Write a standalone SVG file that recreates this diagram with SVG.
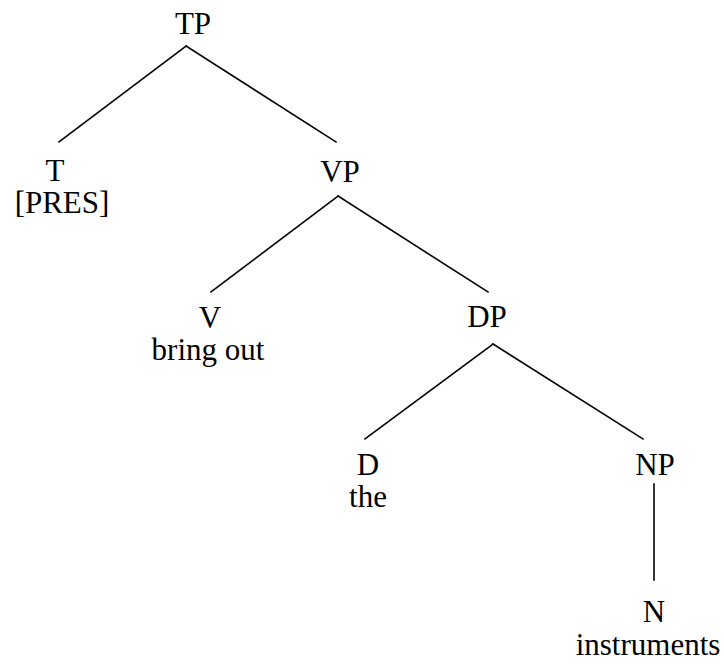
<svg xmlns="http://www.w3.org/2000/svg" width="724" height="664" viewBox="0 0 724 664">
  <style>
    .lbl { font-family: "Liberation Serif", Tinos, "Times New Roman", "DejaVu Serif", serif; font-size: 31px; fill: #000; text-anchor: middle; }
    .edge { stroke: #000; stroke-width: 1.6; fill: none; stroke-linecap: square; }
  </style>
  <rect width="724" height="664" fill="#fff"/>

  <!-- branches of the tree -->
  <g id="connectors">
    <line class="edge" x1="186" y1="46" x2="59" y2="142"/>
    <line class="edge" x1="186" y1="46" x2="336" y2="142"/>
    <line class="edge" x1="338" y1="196" x2="211" y2="292"/>
    <line class="edge" x1="338" y1="196" x2="488" y2="292"/>
    <line class="edge" x1="493" y1="344" x2="365" y2="439"/>
    <line class="edge" x1="493" y1="344" x2="643" y2="439"/>
    <line class="edge" x1="654" y1="484" x2="654" y2="580"/>
  </g>

  <g id="node-TP"><text class="lbl" x="193" y="34">TP</text></g>
  <g id="node-T">
    <text class="lbl" x="55" y="181">T</text>
    <text class="lbl" x="62" y="213">[PRES]</text>
  </g>
  <g id="node-VP"><text class="lbl" x="340" y="182">VP</text></g>
  <g id="node-V">
    <text class="lbl" x="210" y="328">V</text>
    <text class="lbl" x="208" y="360">bring out</text>
  </g>
  <g id="node-DP"><text class="lbl" x="487" y="327">DP</text></g>
  <g id="node-D">
    <text class="lbl" x="368" y="475">D</text>
    <text class="lbl" x="368" y="507">the</text>
  </g>
  <g id="node-NP"><text class="lbl" x="655" y="475">NP</text></g>
  <g id="node-N">
    <text class="lbl" x="654" y="622">N</text>
    <text class="lbl" x="648" y="655">instruments</text>
  </g>
</svg>
